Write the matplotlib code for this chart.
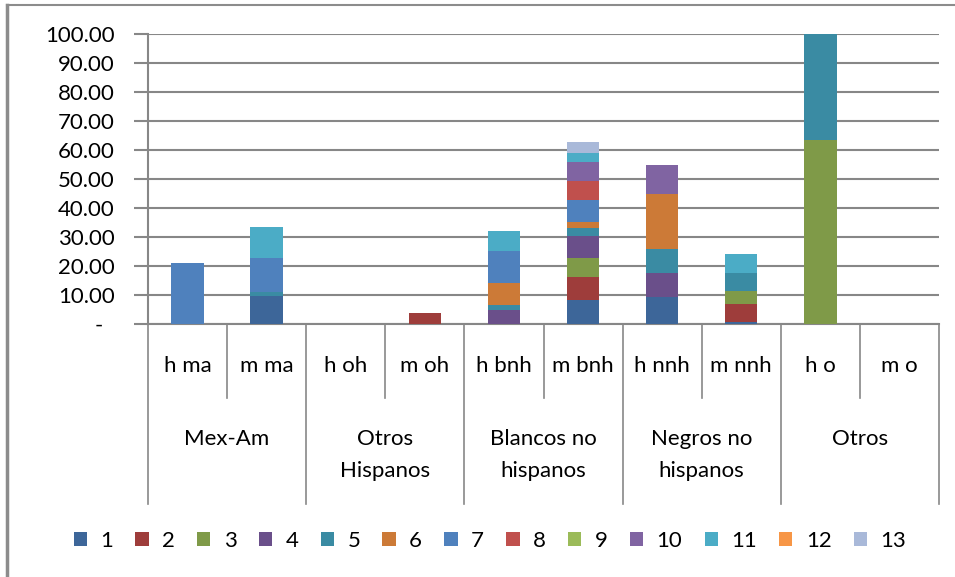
import matplotlib
matplotlib.use("Agg")
import matplotlib.pyplot as plt
from matplotlib.patches import Patch
from matplotlib.lines import Line2D
import numpy as np

plt.rcParams['font.family'] = ['Lato', 'DejaVu Sans']

# Sub-categories (sex x group) and their group labels
categories = ["h ma", "m ma", "h oh", "m oh", "h bnh", "m bnh", "h nnh", "m nnh", "h o", "m o"]
groups = ["Mex-Am", "Otros\nHispanos", "Blancos no\nhispanos", "Negros no\nhispanos", "Otros"]
series_names = ["1", "2", "3", "4", "5", "6", "7", "8", "9", "10", "11", "12", "13"]

s1 = [0, 9.8, 0, 0, 0, 8.4, 9.3, 0.7, 0, 0]
s2 = [0, 0, 0, 3.8, 0, 7.8, 0, 6.2, 0, 0]
s3 = [0, 0, 0, 0, 0, 6.6, 0, 4.5, 63.4, 0]
s4 = [0, 0, 0, 0, 4.8, 7.5, 8.3, 0, 0, 0]
s5 = [0, 1.4, 0, 0, 1.7, 2.8, 8.3, 6.2, 36.6, 0]
s6 = [0, 0, 0, 0, 7.6, 2.1, 18.9, 0, 0, 0]
s7 = [21.2, 11.5, 0, 0, 11.1, 7.6, 0, 0, 0, 0]
s8 = [0, 0, 0, 0, 0, 6.5, 0, 0, 0, 0]
s9 = [0, 0, 0, 0, 0, 0, 0, 0, 0, 0]
s10 = [0, 0, 0, 0, 0, 6.6, 10.0, 0, 0, 0]
s11 = [0, 10.6, 0, 0, 6.9, 3.1, 0, 6.5, 0, 0]
s12 = [0, 0, 0, 0, 0, 0, 0, 0, 0, 0]
s13 = [0, 0, 0, 0, 0, 3.8, 0, 0, 0, 0]
series = [s1, s2, s3, s4, s5, s6, s7, s8, s9, s10, s11, s12, s13]

colors = ["#3D6699", "#9E3D3B", "#7F9A48", "#6A4F8A", "#3A8BA3", "#CC7A37",
          "#4F81BD", "#C0504D", "#9BBB59", "#8064A2", "#4BACC6", "#F79646", "#A9B9D9"]

grid_c = "#878787"
fs = 16
fig = plt.figure(figsize=(9.55, 5.77), dpi=100)
ax = fig.add_axes([148 / 955, (577 - 324) / 577, (939 - 148) / 955, 290 / 577])

x = np.arange(len(categories))
bottom = np.zeros(len(categories))
for vals, c, name in zip(series, colors, series_names):
    v = np.array(vals, dtype=float)
    ax.bar(x, v, width=0.41, bottom=bottom, color=c, label=name, zorder=3)
    bottom += v

ax.set_xlim(-0.5, len(categories) - 0.5)
ax.set_ylim(0, 100)
ax.set_yticks(np.arange(0, 101, 10))
ax.set_yticklabels(["-  "] + [f"{v:.2f}" for v in range(10, 101, 10)])
ax.yaxis.grid(True, color=grid_c, linewidth=1.5, zorder=0)
ax.tick_params(axis='y', length=10, width=1.5, color=grid_c, pad=14, labelsize=fs)
ax.set_xticks([])
for s in ["top", "right"]:
    ax.spines[s].set_visible(False)
for s in ["left", "bottom"]:
    ax.spines[s].set_color(grid_c)
    ax.spines[s].set_linewidth(1.5)

tr = ax.get_xaxis_transform()
h_in = (398 - 324) / 290
h_out = (504 - 324) / 290
# Sub-category labels and separators
for i, lab in enumerate(categories):
    ax.text(i, -(366 - 324) / 290, lab, transform=tr, ha='center', va='center', fontsize=fs)
for b in np.arange(0.5, len(categories) - 1, 1.0):
    length = h_out if (int(b + 0.5) % 2 == 0) else h_in
    ax.add_line(Line2D([b, b], [0, -length], transform=tr, color=grid_c, lw=1.2, clip_on=False))
for b in [-0.5, len(categories) - 0.5]:
    ax.add_line(Line2D([b, b], [0, -h_out], transform=tr, color=grid_c, lw=1.2, clip_on=False))
# Group labels
for g, lab in enumerate(groups):
    ax.text(2 * g + 0.5, -(429 - 324) / 290, lab, transform=tr, ha='center', va='top',
            fontsize=fs, linespacing=1.75)

# Chart frame (left and top edges)
fig.add_artist(Line2D([7 / 955, 7 / 955], [0, 1 - 5 / 577], transform=fig.transFigure,
                      color="#8C8C8C", lw=2.5))
fig.add_artist(Line2D([7 / 955, 1], [1 - 5 / 577, 1 - 5 / 577], transform=fig.transFigure,
                      color="#8C8C8C", lw=1.5))

handles = [Patch(facecolor=c, label=n) for c, n in zip(colors, series_names)]
fig.legend(handles=handles, loc='center', bbox_to_anchor=(0.513, (577 - 541) / 577),
           ncol=13, frameon=False, fontsize=fs, handlelength=0.6, handleheight=0.6,
           handletextpad=0.6, columnspacing=1.0)

fig.savefig("out.png", dpi=100)
